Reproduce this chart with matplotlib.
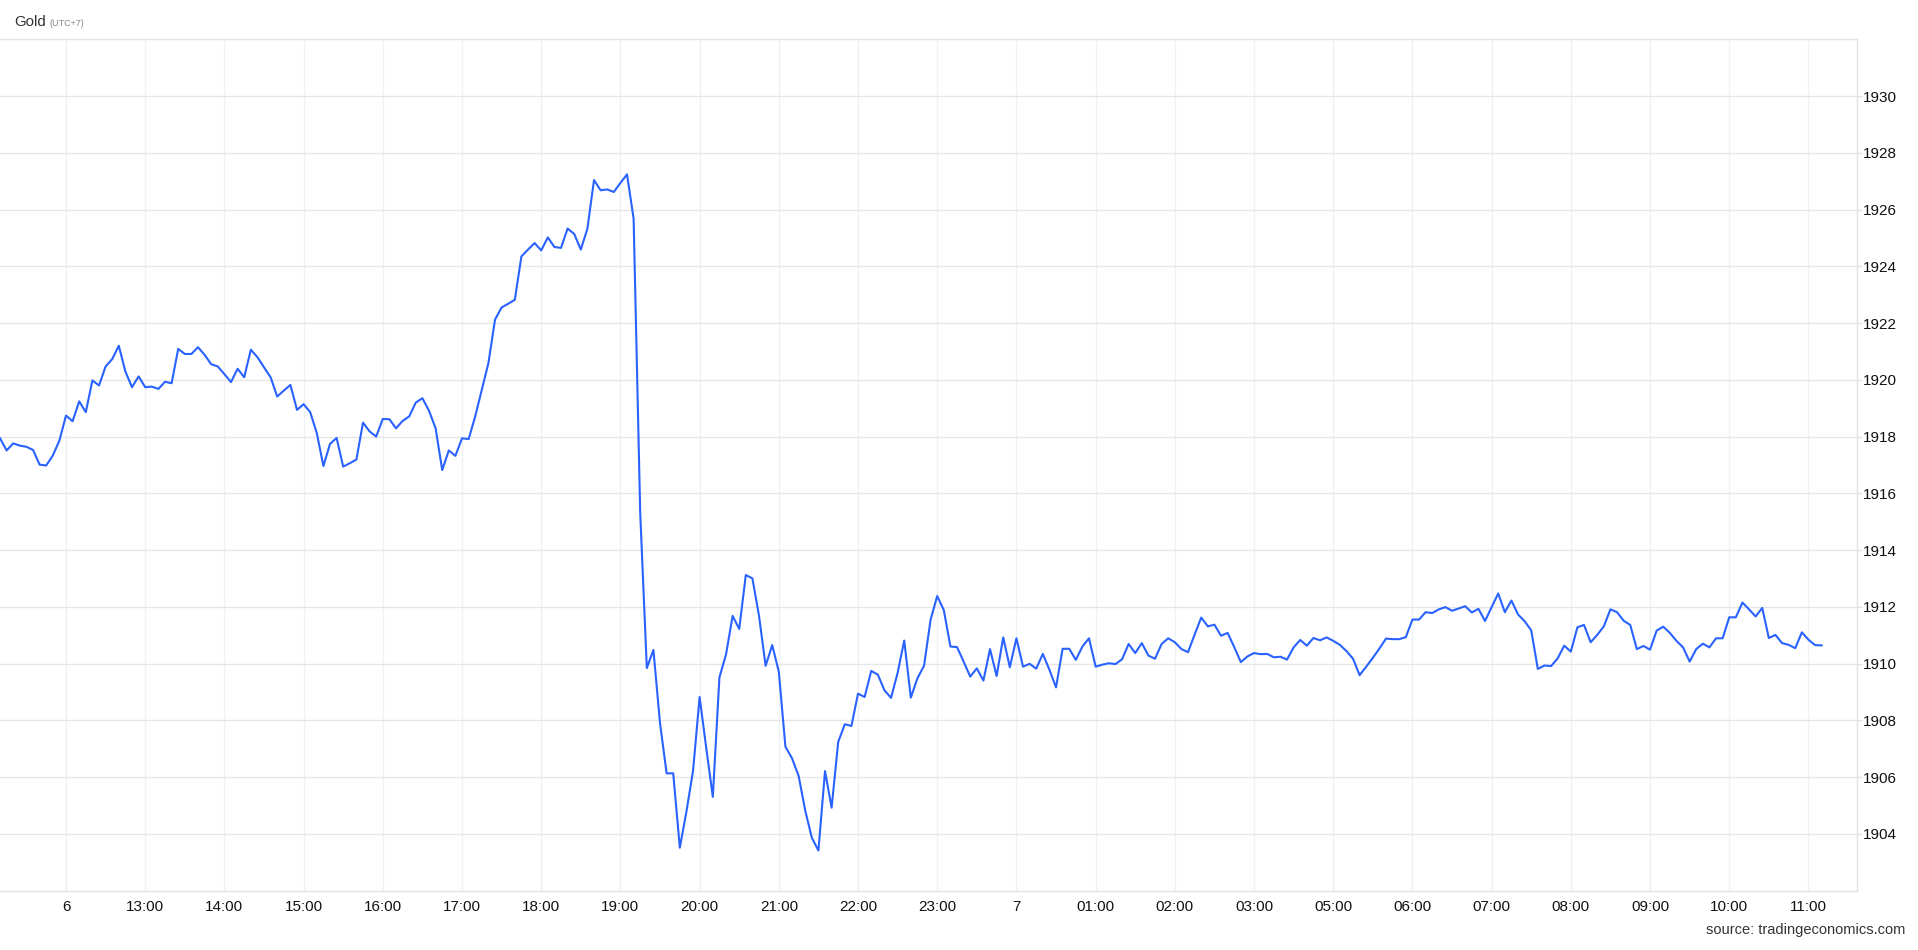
import numpy as np
import matplotlib.pyplot as plt

plt.rcParams['font.family'] = ['Liberation Sans', 'DejaVu Sans']

# 5-minute gold prices (index 0 = first sample)
prices = [
    1917.94, 1917.51, 1917.76, 1917.68, 1917.64, 1917.53, 1917.01, 1916.98, 1917.33, 1917.86,
    1918.74, 1918.54, 1919.24, 1918.86, 1919.98, 1919.80, 1920.47, 1920.73, 1921.20, 1920.29,
    1919.74, 1920.12, 1919.74, 1919.76, 1919.68, 1919.93, 1919.88, 1921.09, 1920.91, 1920.91,
    1921.15, 1920.88, 1920.55, 1920.47, 1920.20, 1919.92, 1920.39, 1920.09, 1921.06, 1920.80,
    1920.44, 1920.09, 1919.41, 1919.62, 1919.82, 1918.94, 1919.14, 1918.86, 1918.12, 1916.96,
    1917.74, 1917.95, 1916.94, 1917.06, 1917.19, 1918.49, 1918.18, 1918.00, 1918.62, 1918.61,
    1918.29, 1918.55, 1918.71, 1919.20, 1919.35, 1918.91, 1918.29, 1916.82, 1917.51, 1917.32,
    1917.94, 1917.91, 1918.71, 1919.65, 1920.59, 1922.12, 1922.55, 1922.68, 1922.82, 1924.35,
    1924.59, 1924.82, 1924.56, 1925.02, 1924.68, 1924.65, 1925.33, 1925.14, 1924.59, 1925.33,
    1927.04, 1926.68, 1926.71, 1926.62, 1926.94, 1927.24, 1925.68, 1915.30, 1909.84, 1910.48,
    1907.90, 1906.13, 1906.13, 1903.51, 1904.78, 1906.21, 1908.82, 1907.03, 1905.30, 1909.51,
    1910.32, 1911.68, 1911.22, 1913.12, 1913.00, 1911.68, 1909.92, 1910.65, 1909.71, 1907.07,
    1906.66, 1906.04, 1904.82, 1903.86, 1903.41, 1906.21, 1904.92, 1907.24, 1907.86, 1907.80,
    1908.94, 1908.82, 1909.74, 1909.61, 1909.06, 1908.79, 1909.67, 1910.81, 1908.80, 1909.48,
    1909.92, 1911.55, 1912.38, 1911.88, 1910.60, 1910.58, 1910.07, 1909.54, 1909.83, 1909.40,
    1910.51, 1909.56, 1910.92, 1909.87, 1910.89, 1909.89, 1909.99, 1909.82, 1910.34, 1909.78,
    1909.16, 1910.52, 1910.52, 1910.13, 1910.60, 1910.89, 1909.89, 1909.96, 1910.01, 1909.98,
    1910.15, 1910.69, 1910.37, 1910.72, 1910.28, 1910.17, 1910.69, 1910.89, 1910.75, 1910.51,
    1910.40, 1911.02, 1911.62, 1911.31, 1911.37, 1910.98, 1911.08, 1910.58, 1910.05, 1910.25,
    1910.37, 1910.33, 1910.34, 1910.22, 1910.24, 1910.14, 1910.57, 1910.83, 1910.63, 1910.90,
    1910.82, 1910.92, 1910.80, 1910.66, 1910.44, 1910.17, 1909.59, 1909.89, 1910.20, 1910.53,
    1910.88, 1910.86, 1910.86, 1910.93, 1911.55, 1911.55, 1911.81, 1911.78, 1911.91, 1911.99,
    1911.86, 1911.94, 1912.02, 1911.80, 1911.93, 1911.50, 1911.99, 1912.47, 1911.81, 1912.22,
    1911.73, 1911.49, 1911.17, 1909.81, 1909.93, 1909.91, 1910.18, 1910.63, 1910.42, 1911.28,
    1911.36, 1910.75, 1911.01, 1911.31, 1911.91, 1911.81, 1911.51, 1911.36, 1910.51, 1910.62,
    1910.49, 1911.16, 1911.30, 1911.08, 1910.80, 1910.57, 1910.07, 1910.51, 1910.70, 1910.57,
    1910.89, 1910.89, 1911.63, 1911.63, 1912.15, 1911.91, 1911.66, 1911.96, 1910.90, 1911.01,
    1910.72, 1910.66, 1910.54, 1911.10, 1910.84, 1910.65, 1910.64,
]

tick_labels = ["6", "13:00", "14:00", "15:00", "16:00", "17:00", "18:00", "19:00",
               "20:00", "21:00", "22:00", "23:00", "7", "01:00", "02:00", "03:00",
               "05:00", "06:00", "07:00", "08:00", "09:00", "10:00", "11:00"]
first_tick = 10      # sample index of the first label
per_hour = 12        # 5 minute samples
y_ticks = list(range(1904, 1931, 2))

fig = plt.figure(figsize=(19.18, 9.5), dpi=100)
ax = fig.add_axes([0, 0.0626, 0.968, 0.8960])

x = np.arange(len(prices))
ax.plot(x, prices, color='#2962ff', lw=1.5)

ax.set_xlim(0, 281.3)
ax.set_ylim(1902, 1932)
ax.set_xticks([first_tick + per_hour * k for k in range(len(tick_labels))], tick_labels)
ax.yaxis.tick_right()
ax.set_yticks(y_ticks)

ax.grid(axis='y', color='#e6e6e6', lw=1)
ax.grid(axis='x', color='#eef1f6', lw=1)
ax.set_axisbelow(True)

ax.spines['left'].set_visible(False)
for s in ['top', 'right', 'bottom']:
    ax.spines[s].set_color('#e3e3e3')
    ax.spines[s].set_linewidth(1)

ax.tick_params(axis='y', length=3.5, width=1, color='#e3e3e3', pad=1,
               labelsize=11, labelcolor='#111111')
ax.tick_params(axis='x', length=0, pad=7, labelsize=11, labelcolor='#111111')

fig.text(14 / 1918, 1 - 26 / 950, 'Gold', fontsize=10.8, color='#333333', va='baseline')
fig.text(49 / 1918, 1 - 26 / 950, '(UTC+7)', fontsize=6.5, color='#888888', va='baseline')
fig.text(1905 / 1918, 1 - 930 / 950, 'source: tradingeconomics.com', ha='right',
         va='center', fontsize=10.5, color='#333333')

fig.savefig('out.png', dpi=100)
